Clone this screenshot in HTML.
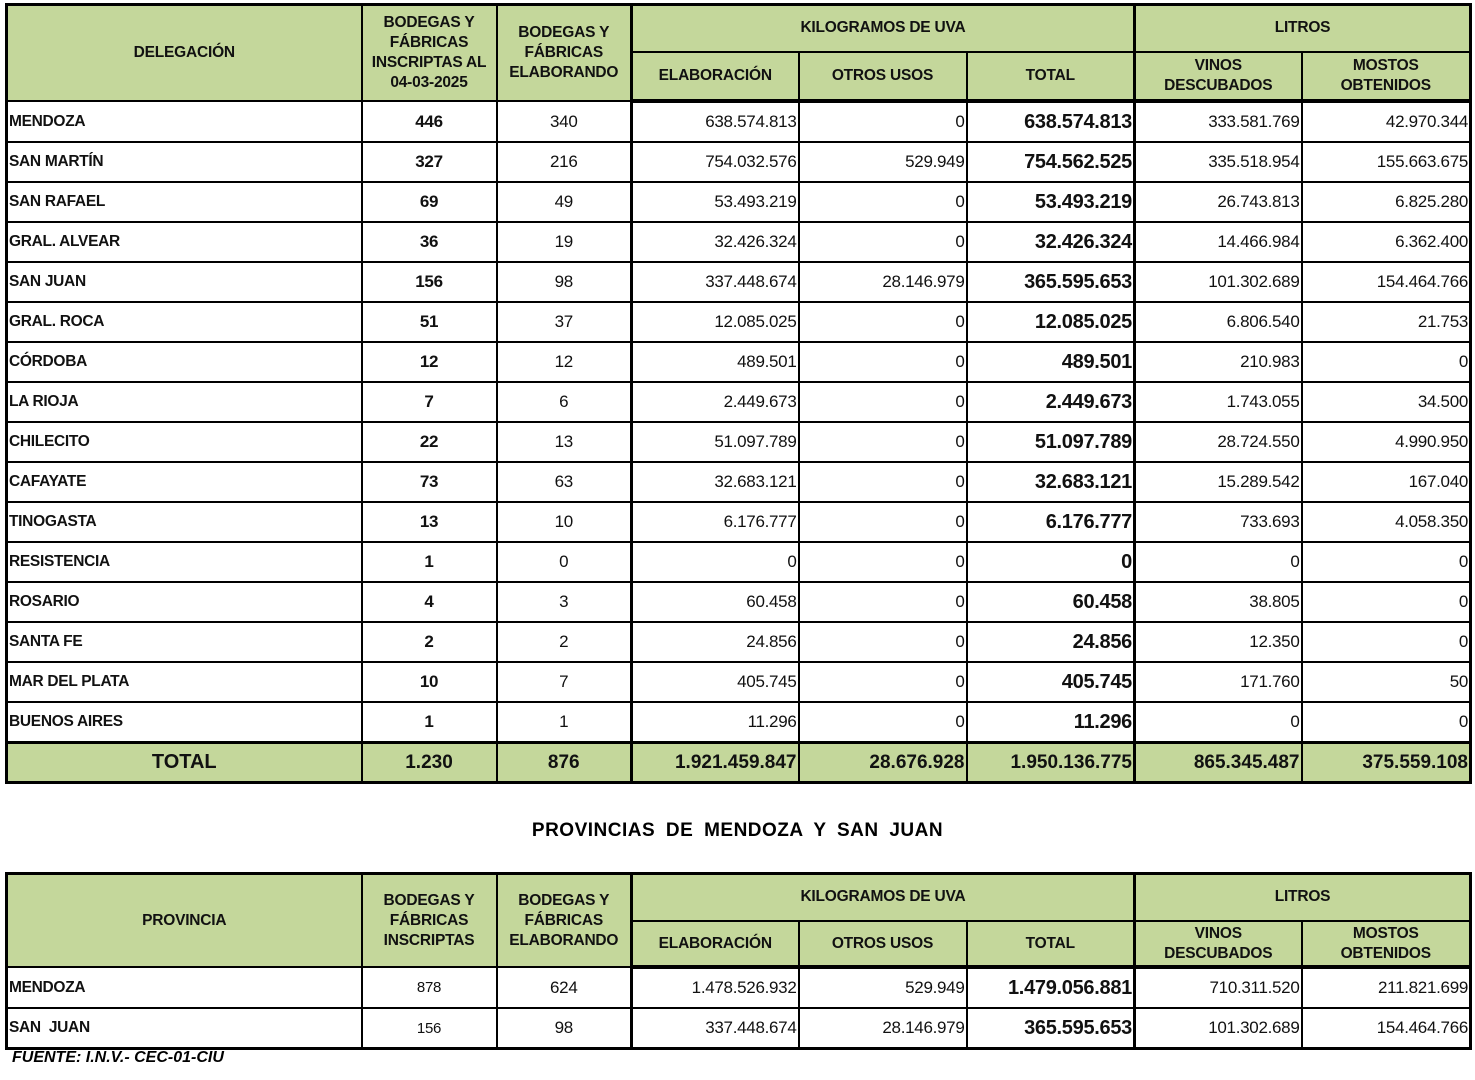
<!DOCTYPE html>
<html><head><meta charset="utf-8"><style>
body{margin:0;background:#fff;width:1475px;height:1080px;position:relative;font-family:"Liberation Sans",Arial,sans-serif;overflow:hidden}
table{position:absolute;left:5px;border-collapse:collapse;table-layout:fixed}
td{border:2px solid #000;padding:0 1px;white-space:nowrap;overflow:hidden;color:#111}
.h td{background:#c4d79b;font-weight:bold;font-size:15.5px;text-align:center;line-height:20px;letter-spacing:-0.2px}
.r td{height:38px;font-size:17px;text-align:right;letter-spacing:-0.3px}
.r td:first-child{text-align:left;font-weight:bold;font-size:15.5px}
.r td:nth-child(2){text-align:center;font-weight:bold;font-size:17px}
.r td:nth-child(3){text-align:center}
.r td:nth-child(6){font-weight:bold;font-size:20px}
.t td{background:#c4d79b;font-weight:bold;font-size:19px;height:37px;text-align:right;border-bottom:3px solid #000}
.t td:first-child,.t td:nth-child(2),.t td:nth-child(3){text-align:center}
.hb td{border-bottom:4px solid #000}
.L{border-left:3px solid #000!important}
</style></head><body>
<table style="top:3px;width:1464px;border:3px solid #000">
<colgroup><col style="width:355px"><col style="width:135px"><col style="width:135px"><col style="width:167px"><col style="width:168px"><col style="width:168px"><col style="width:167px"><col style="width:169px"></colgroup>
<tr class="h"><td rowspan="2">DELEGACIÓN</td><td rowspan="2">BODEGAS Y<br>FÁBRICAS<br>INSCRIPTAS AL<br>04-03-2025</td><td rowspan="2">BODEGAS Y<br>FÁBRICAS<br>ELABORANDO</td><td colspan="3" style="height:33px;vertical-align:top;padding-top:12px" class="L">KILOGRAMOS DE UVA</td><td colspan="2" style="vertical-align:top;padding-top:12px" class="L">LITROS</td></tr>
<tr class="h hb"><td style="height:46px" class="L">ELABORACIÓN</td><td>OTROS USOS</td><td>TOTAL</td><td class="L">VINOS<br>DESCUBADOS</td><td>MOSTOS<br>OBTENIDOS</td></tr>
<tr class="r"><td>MENDOZA</td><td>446</td><td>340</td><td class="L">638.574.813</td><td>0</td><td>638.574.813</td><td class="L">333.581.769</td><td>42.970.344</td></tr>
<tr class="r"><td>SAN MARTÍN</td><td>327</td><td>216</td><td class="L">754.032.576</td><td>529.949</td><td>754.562.525</td><td class="L">335.518.954</td><td>155.663.675</td></tr>
<tr class="r"><td>SAN RAFAEL</td><td>69</td><td>49</td><td class="L">53.493.219</td><td>0</td><td>53.493.219</td><td class="L">26.743.813</td><td>6.825.280</td></tr>
<tr class="r"><td>GRAL. ALVEAR</td><td>36</td><td>19</td><td class="L">32.426.324</td><td>0</td><td>32.426.324</td><td class="L">14.466.984</td><td>6.362.400</td></tr>
<tr class="r"><td>SAN JUAN</td><td>156</td><td>98</td><td class="L">337.448.674</td><td>28.146.979</td><td>365.595.653</td><td class="L">101.302.689</td><td>154.464.766</td></tr>
<tr class="r"><td>GRAL. ROCA</td><td>51</td><td>37</td><td class="L">12.085.025</td><td>0</td><td>12.085.025</td><td class="L">6.806.540</td><td>21.753</td></tr>
<tr class="r"><td>CÓRDOBA</td><td>12</td><td>12</td><td class="L">489.501</td><td>0</td><td>489.501</td><td class="L">210.983</td><td>0</td></tr>
<tr class="r"><td>LA RIOJA</td><td>7</td><td>6</td><td class="L">2.449.673</td><td>0</td><td>2.449.673</td><td class="L">1.743.055</td><td>34.500</td></tr>
<tr class="r"><td>CHILECITO</td><td>22</td><td>13</td><td class="L">51.097.789</td><td>0</td><td>51.097.789</td><td class="L">28.724.550</td><td>4.990.950</td></tr>
<tr class="r"><td>CAFAYATE</td><td>73</td><td>63</td><td class="L">32.683.121</td><td>0</td><td>32.683.121</td><td class="L">15.289.542</td><td>167.040</td></tr>
<tr class="r"><td>TINOGASTA</td><td>13</td><td>10</td><td class="L">6.176.777</td><td>0</td><td>6.176.777</td><td class="L">733.693</td><td>4.058.350</td></tr>
<tr class="r"><td>RESISTENCIA</td><td>1</td><td>0</td><td class="L">0</td><td>0</td><td>0</td><td class="L">0</td><td>0</td></tr>
<tr class="r"><td>ROSARIO</td><td>4</td><td>3</td><td class="L">60.458</td><td>0</td><td>60.458</td><td class="L">38.805</td><td>0</td></tr>
<tr class="r"><td>SANTA FE</td><td>2</td><td>2</td><td class="L">24.856</td><td>0</td><td>24.856</td><td class="L">12.350</td><td>0</td></tr>
<tr class="r"><td>MAR DEL PLATA</td><td>10</td><td>7</td><td class="L">405.745</td><td>0</td><td>405.745</td><td class="L">171.760</td><td>50</td></tr>
<tr class="r"><td>BUENOS AIRES</td><td>1</td><td>1</td><td class="L">11.296</td><td>0</td><td>11.296</td><td class="L">0</td><td>0</td></tr>
<tr class="t"><td style="border-top:3px solid #000;font-size:20px">TOTAL</td><td style="border-top:3px solid #000">1.230</td><td style="border-top:3px solid #000">876</td><td class="L" style="border-top:3px solid #000">1.921.459.847</td><td style="border-top:3px solid #000">28.676.928</td><td style="border-top:3px solid #000">1.950.136.775</td><td class="L" style="border-top:3px solid #000">865.345.487</td><td style="border-top:3px solid #000">375.559.108</td></tr>
</table>
<div style="position:absolute;top:820px;left:0;width:1475px;text-align:center;font-weight:bold;font-size:19px;word-spacing:5px;letter-spacing:0.5px">PROVINCIAS DE MENDOZA Y SAN JUAN</div>
<table style="top:872px;width:1464px;border:3px solid #000">
<colgroup><col style="width:355px"><col style="width:135px"><col style="width:135px"><col style="width:167px"><col style="width:168px"><col style="width:168px"><col style="width:167px"><col style="width:169px"></colgroup>
<tr class="h"><td rowspan="2">PROVINCIA</td><td rowspan="2">BODEGAS Y<br>FÁBRICAS<br>INSCRIPTAS</td><td rowspan="2">BODEGAS Y<br>FÁBRICAS<br>ELABORANDO</td><td colspan="3" style="height:33px;vertical-align:top;padding-top:12px" class="L">KILOGRAMOS DE UVA</td><td colspan="2" style="vertical-align:top;padding-top:12px" class="L">LITROS</td></tr>
<tr class="h hb"><td style="height:43px" class="L">ELABORACIÓN</td><td>OTROS USOS</td><td>TOTAL</td><td class="L">VINOS<br>DESCUBADOS</td><td>MOSTOS<br>OBTENIDOS</td></tr>
<tr class="r"><td style="height:36px">MENDOZA</td><td style="font-weight:normal;font-size:15px">878</td><td>624</td><td class="L">1.478.526.932</td><td>529.949</td><td>1.479.056.881</td><td class="L">710.311.520</td><td>211.821.699</td></tr>
<tr class="r"><td style="height:35px">SAN&nbsp; JUAN</td><td style="font-weight:normal;font-size:15px">156</td><td>98</td><td class="L">337.448.674</td><td>28.146.979</td><td>365.595.653</td><td class="L">101.302.689</td><td>154.464.766</td></tr>
</table>
<div style="position:absolute;top:1049px;left:12px;font-weight:bold;font-style:italic;font-size:16px">FUENTE: I.N.V.- CEC-01-CIU</div>
</body></html>
